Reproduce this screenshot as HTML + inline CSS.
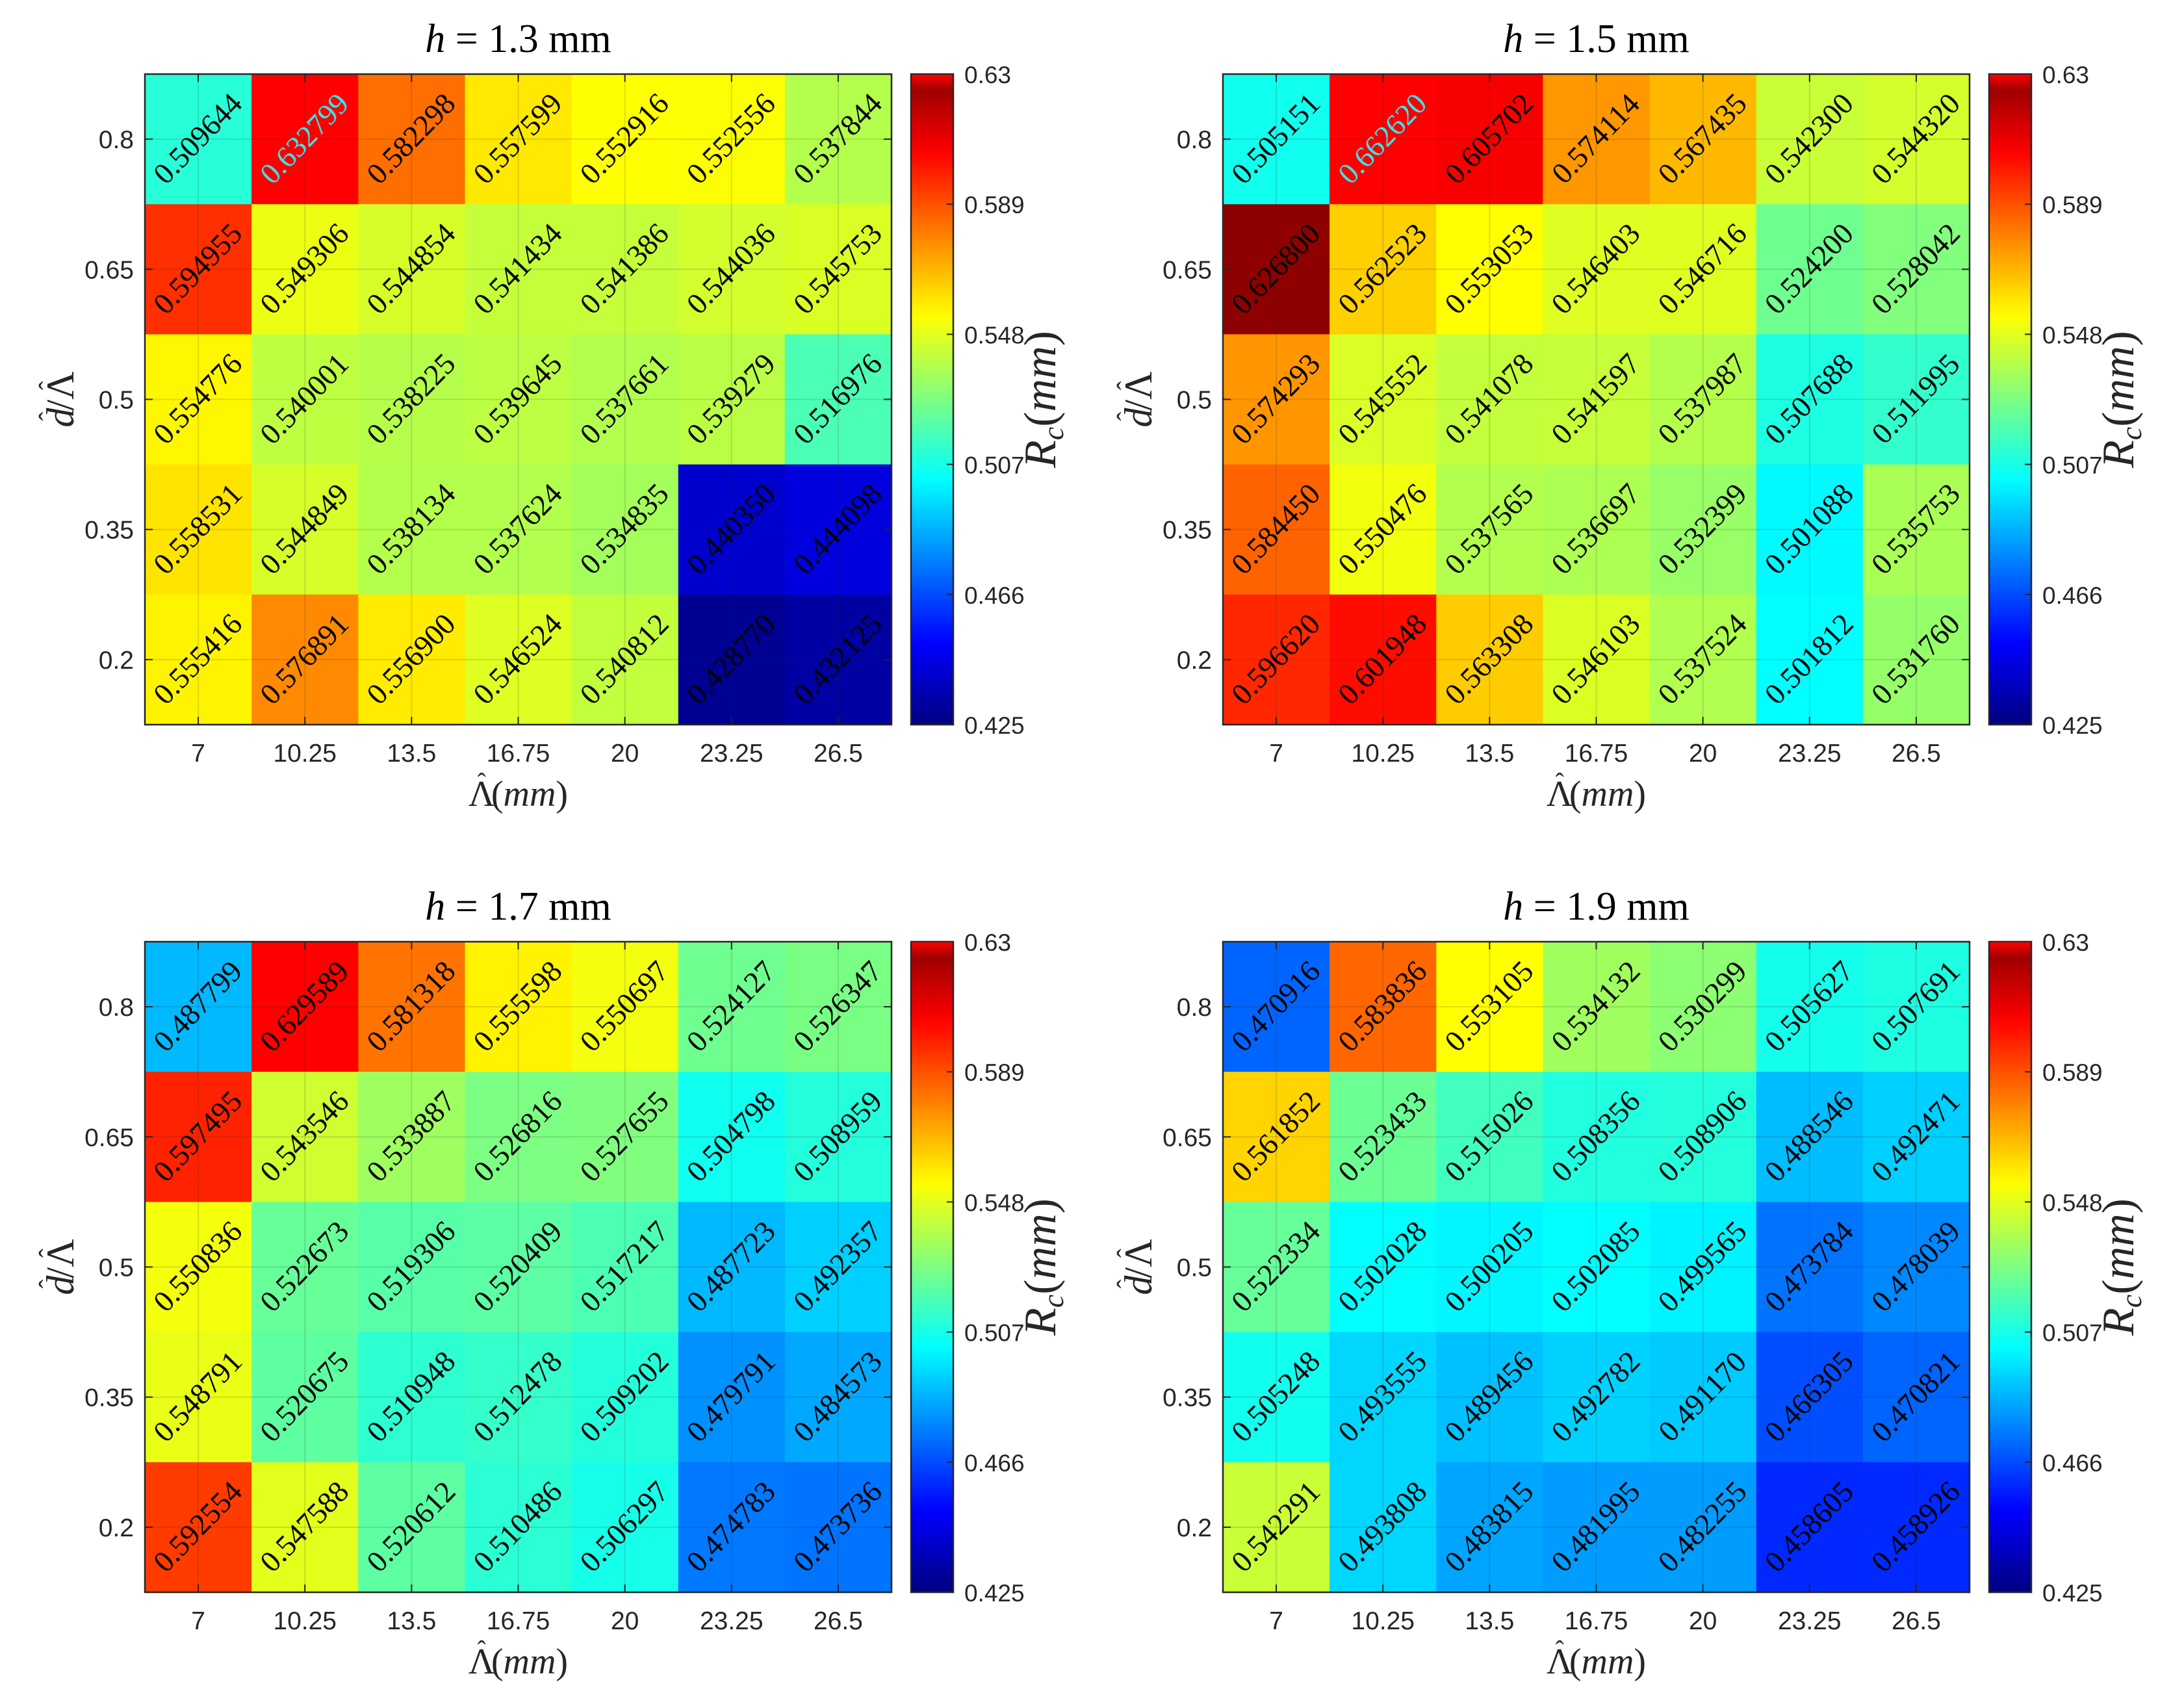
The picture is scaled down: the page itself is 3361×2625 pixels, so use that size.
<!DOCTYPE html>
<html><head><meta charset="utf-8"><style>
html,body{margin:0;padding:0;background:#fff;}
svg{display:block;}
</style></head><body>
<svg id="fig" width="3361" height="2625" viewBox="0 0 3361 2625" xmlns="http://www.w3.org/2000/svg"></svg>
<script>
const xCategories = ["7","10.25","13.5","16.75","20","23.25","26.5"];
const yCategories = ["0.8","0.65","0.5","0.35","0.2"];
const panelTitles = ["1.3","1.5","1.7","1.9"];
const cbTicks = [0.63,0.589,0.548,0.507,0.466,0.425];
const cMin = 0.425, cMax = 0.63;
const vals13 = [
[0.509644,0.632799,0.582298,0.557599,0.552916,0.552556,0.537844],
[0.594955,0.549306,0.544854,0.541434,0.541386,0.544036,0.545753],
[0.554776,0.540001,0.538225,0.539645,0.537661,0.539279,0.516976],
[0.558531,0.544849,0.538134,0.537624,0.534835,0.440350,0.444098],
[0.555416,0.576891,0.556900,0.546524,0.540812,0.428770,0.432125]];
const vals15 = [
[0.505151,0.662620,0.605702,0.574114,0.567435,0.542300,0.544320],
[0.626800,0.562523,0.553053,0.546403,0.546716,0.524200,0.528042],
[0.574293,0.545552,0.541078,0.541597,0.537987,0.507688,0.511995],
[0.584450,0.550476,0.537565,0.536697,0.532399,0.501088,0.535753],
[0.596620,0.601948,0.563308,0.546103,0.537524,0.501812,0.531760]];
const vals17 = [
[0.487799,0.629589,0.581318,0.555598,0.550697,0.524127,0.526347],
[0.597495,0.543546,0.533887,0.526816,0.527655,0.504798,0.508959],
[0.550836,0.522673,0.519306,0.520409,0.517217,0.487723,0.492357],
[0.548791,0.520675,0.510948,0.512478,0.509202,0.479791,0.484573],
[0.592554,0.547588,0.520612,0.510486,0.506297,0.474783,0.473736]];
const vals19 = [
[0.470916,0.583836,0.553105,0.534132,0.530299,0.505627,0.507691],
[0.561852,0.523433,0.515026,0.508356,0.508906,0.488546,0.492471],
[0.522334,0.502028,0.500205,0.502085,0.499565,0.473784,0.478039],
[0.505248,0.493555,0.489456,0.492782,0.491170,0.466305,0.470821],
[0.542291,0.493808,0.483815,0.481995,0.482255,0.458605,0.458926]];
const allVals = [vals13, vals15, vals17, vals19];

const NS = "http://www.w3.org/2000/svg";
const svg = document.getElementById("fig");
function mk(tag, attrs, parent, txt){
  const e = document.createElementNS(NS, tag);
  for (const k in attrs) e.setAttribute(k, attrs[k]);
  if (txt !== undefined) e.textContent = txt;
  (parent||svg).appendChild(e);
  return e;
}
function clamp(v){return Math.max(0,Math.min(1,v));}
const topBin = cMax - (cMax-cMin)/64 + 0.0001;
function jet(v){
  if (v >= topBin) return "rgb(255,0,0)";
  const t = clamp((v - cMin)/(cMax - cMin));
  const r = clamp(1.5-Math.abs(4*t-3)), g = clamp(1.5-Math.abs(4*t-2)), b = clamp(1.5-Math.abs(4*t-1));
  return `rgb(${Math.round(r*255)},${Math.round(g*255)},${Math.round(b*255)})`;
}
const PW = 1149, PH = 1001, CBW = 65;
const offsets = [[223,114],[1882,114],[223,1449],[1882,1449]];
const defs = mk("defs",{});
const grad = mk("linearGradient",{id:"jetg",x1:"0",y1:"1",x2:"0",y2:"0"},defs);
for (let i=0;i<=40;i++){
  const v = cMin + (cMax-cMin)*i/40*0.995;
  mk("stop",{offset:(i/40).toFixed(3),"stop-color":jet(v)},grad);
}
const tickFont = '"Liberation Sans", sans-serif';
const serif = '"Liberation Serif", serif';

allVals.forEach((vals, p) => {
  const [X0, Y0] = offsets[p];
  const g = mk("g",{});
  
  
  const cw = PW / xCategories.length, ch = PH / yCategories.length;
  const xs = i => X0 + cw*(i+0.5);
  const ys = j => Y0 + ch*(j+0.5);
  vals.forEach((row, j) => row.forEach((v, i) => {
    const r = mk("rect",{x:X0+cw*i,y:Y0+ch*j,width:cw+0.5,height:ch+0.5,fill:jet(v)},g);
    
    
  }));
  xCategories.forEach((c,i)=>{
    mk("line",{x1:xs(i),x2:xs(i),y1:Y0,y2:Y0+PH,stroke:"#262626","stroke-opacity":"0.15","stroke-width":2},g);
    mk("line",{x1:xs(i),x2:xs(i),y1:Y0+PH,y2:Y0+PH-12,stroke:"#262626","stroke-width":2},g);
    mk("line",{x1:xs(i),x2:xs(i),y1:Y0,y2:Y0+12,stroke:"#262626","stroke-width":2},g);
    const t = mk("text",{x:xs(i),y:Y0+PH+57,"font-family":tickFont,"font-size":39,fill:"#262626","text-anchor":"middle"},g,c);
    
    
  });
  yCategories.forEach((c,j)=>{
    mk("line",{x1:X0,x2:X0+PW,y1:ys(j),y2:ys(j),stroke:"#262626","stroke-opacity":"0.15","stroke-width":2},g);
    mk("line",{x1:X0,x2:X0+12,y1:ys(j),y2:ys(j),stroke:"#262626","stroke-width":2},g);
    mk("line",{x1:X0+PW,x2:X0+PW-12,y1:ys(j),y2:ys(j),stroke:"#262626","stroke-width":2},g);
    const t = mk("text",{x:X0-17,y:ys(j)+14,"font-family":tickFont,"font-size":39,fill:"#262626","text-anchor":"end"},g,c);
    
    
  });
  vals.forEach((row, j) => row.forEach((v, i) => {
    const cx = xs(i), cy = ys(j);
    const t = mk("text",{x:cx,y:cy+14,"font-family":serif,"font-size":46,fill:(v>cMax?"#33e6ee":"#000"),"text-anchor":"middle",transform:`rotate(-46 ${cx} ${cy})`},g,v.toFixed(6));
    
    
  }));
  mk("rect",{x:X0,y:Y0,width:PW,height:PH,fill:"none",stroke:"#262626","stroke-width":2.5},g);
  const cxp = X0 + PW/2;
  const tt = mk("text",{x:cxp,y:Y0-34,"font-family":serif,"font-size":62,fill:"#000","text-anchor":"middle"},g);
  
  
  mk("tspan",{"font-style":"italic"},tt,"h");
  mk("tspan",{},tt," = "+panelTitles[p]+" mm");
  // x label
  const xl = mk("text",{x:cxp,y:Y0+PH+125,"font-family":serif,"font-size":56,fill:"#262626","text-anchor":"middle"},g);
  
  
  mk("tspan",{},xl,"Λ");
  mk("tspan",{dx:-27,dy:-23,"font-size":40},xl,"ˆ");
  mk("tspan",{dx:8,dy:23},xl,"(");
  mk("tspan",{"font-style":"italic"},xl,"mm");
  mk("tspan",{},xl,")");
  // y label
  const yl = mk("text",{x:X0-128,y:Y0+PH/2+18,"font-family":serif,"font-size":60,fill:"#262626","text-anchor":"middle",transform:`rotate(-90 ${X0-128} ${Y0+PH/2})`},g);
  
  
  mk("tspan",{"font-style":"italic"},yl,"d");
  mk("tspan",{dx:-20,dy:-24,"font-size":42},yl,"ˆ");
  mk("tspan",{dx:2,dy:24},yl,"/Λ");
  mk("tspan",{dx:-29,dy:-24,"font-size":42},yl,"ˆ");
  mk("tspan",{dy:24,"font-size":42},yl," ");
  // colorbar
  const cbx = X0 + PW + 30;
  const cb = mk("rect",{x:cbx,y:Y0,width:CBW,height:PH,fill:"url(#jetg)",stroke:"#262626","stroke-width":2.5},g);
  
  
  mk("line",{x1:cbx+1,x2:cbx+CBW-1,y1:Y0+2,y2:Y0+2,stroke:"#ff0000","stroke-width":2},g);
  cbTicks.forEach(v=>{
    const y = Y0 + PH*(cMax - v)/(cMax-cMin);
    mk("line",{x1:cbx+CBW,x2:cbx+CBW-10,y1:y,y2:y,stroke:"#262626","stroke-width":2},g);
    const t = mk("text",{x:cbx+CBW+17,y:y+14,"font-family":tickFont,"font-size":37,fill:"#262626"},g,String(v));
    
    
  });
  const lx = cbx + 222, ly = Y0 + PH/2;
  const cl = mk("text",{x:lx,y:ly,"font-family":serif,"font-size":70,fill:"#262626","text-anchor":"middle",transform:`rotate(-90 ${lx} ${ly})`},g);
  
  
  mk("tspan",{"font-style":"italic"},cl,"R");
  mk("tspan",{"font-style":"italic","font-size":46,dy:12},cl,"c");
  mk("tspan",{dy:-12},cl,"(");
  mk("tspan",{"font-style":"italic"},cl,"mm");
  mk("tspan",{},cl,")");
});
</script>
</body></html>
